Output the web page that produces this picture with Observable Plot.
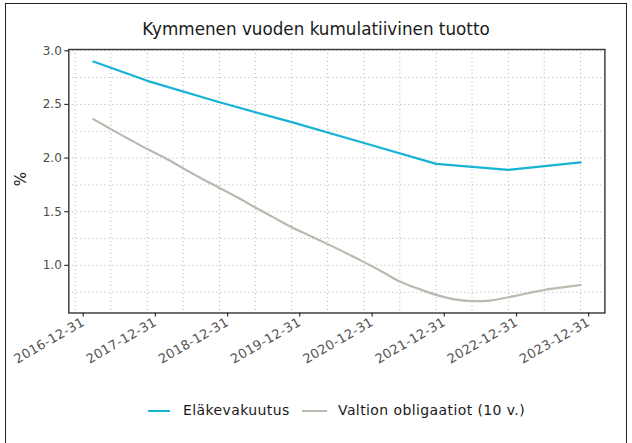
<!DOCTYPE html>
<html>
<head>
<meta charset="utf-8">
<script src="https://cdn.jsdelivr.net/npm/d3@7"></script>
<script src="https://cdn.jsdelivr.net/npm/@observablehq/plot@0.6"></script>
<style>
  body { margin: 0; background: #fff; }
  #wrap { position: relative; width: 632px; height: 443px; overflow: hidden; background: #fff;
          font-family: "DejaVu Sans", sans-serif; }
  #frame { position: absolute; left: 5px; top: 3px; width: 622px; height: 470px;
           border: 1px solid #222; box-sizing: border-box; pointer-events: none; }
  #chart { position: absolute; left: 0; top: 0; }
  #title { position: absolute; top: 19px; left: 0; width: 632px; text-align: center;
           font-size: 16.8px; color: #1a1a1a; line-height: 20px; }
  #ylab { position: absolute; left: 21px; top: 179px; transform: translate(-50%, -50%) rotate(-90deg);
          font-size: 15px; color: #1a1a1a; }
  .leg { position: absolute; top: 402px; font-size: 14px; letter-spacing: 0.4px; color: #1a1a1a; line-height: 17px; white-space: nowrap; }
  .sw { position: absolute; top: 410px; height: 2px; }
  .xax text { font-size: 13px; letter-spacing: 0.3px; }
</style>
</head>
<body>
<div id="wrap">
  <div id="chart"></div>
  <div id="title"></div>
  <div id="ylab"></div>
  <div id="legend"></div>
  <div id="frame"></div>
</div>
<script>
// ---- data ----
const titleText = "Kymmenen vuoden kumulatiivinen tuotto";
const yLabel = "%";
const seriesNames = ["Eläkevakuutus", "Valtion obligaatiot (10 v.)"];
const seriesColors = ["#17b3d4", "#b7bbb0"];

const pensionDates = ["2017-02-20","2017-11-20","2018-11-20","2019-11-20","2020-11-20","2021-11-20","2022-11-20","2023-11-20"];
const pensionValues = [2.90, 2.72, 2.52, 2.335, 2.14, 1.946, 1.89, 1.96];

const bondDates = [
  "2017-02-20","2017-05-20","2017-08-20","2017-11-20",
  "2018-02-20","2018-05-20","2018-08-20","2018-11-20",
  "2019-02-20","2019-05-20","2019-08-20","2019-11-20",
  "2020-02-20","2020-05-20","2020-08-20","2020-11-20",
  "2021-02-20","2021-05-20","2021-08-20","2021-11-20",
  "2022-02-20","2022-05-20","2022-08-20","2022-11-20",
  "2023-02-20","2023-05-20","2023-08-20","2023-11-20"];
const bondValues = [
  2.363, 2.270, 2.176, 2.084,
  1.998, 1.905, 1.810, 1.722,
  1.632, 1.540, 1.447, 1.355,
  1.276, 1.198, 1.116, 1.030,
  0.940, 0.850, 0.783, 0.725,
  0.683, 0.667, 0.672, 0.703,
  0.738, 0.770, 0.795, 0.817];

const xTickDates = ["2016-12-31","2017-12-31","2018-12-31","2019-12-31","2020-12-31","2021-12-31","2022-12-31","2023-12-31"];
const yTicks = [1.0, 1.5, 2.0, 2.5, 3.0];
const yGrid = [0.75, 1.0, 1.25, 1.5, 1.75, 2.0, 2.25, 2.5, 2.75, 3.0];
const xGridDates = ["2016-11-20","2017-05-20","2017-11-20","2018-05-20","2018-11-20","2019-05-20","2019-11-20",
  "2020-05-20","2020-11-20","2021-05-20","2021-11-20","2022-05-20","2022-11-20","2023-05-20","2023-11-20"];
const xDomain = ["2016-10-19", "2024-03-22"];
const yDomain = [0.556, 3.012];

// ---- build ----
const D = s => new Date(s + "T00:00:00Z");
const pension = pensionDates.map((d, i) => ({date: D(d), value: pensionValues[i]}));
const bonds = bondDates.map((d, i) => ({date: D(d), value: bondValues[i]}));

const chart = Plot.plot({
  width: 632,
  height: 443,
  marginLeft: 68.3,
  marginRight: 27.6,
  marginTop: 49,
  marginBottom: 130.5,
  style: {fontFamily: '"DejaVu Sans", sans-serif', fontSize: "12px", background: "transparent", color: "#4d4d4d", overflow: "visible"},
  x: {type: "utc", domain: xDomain.map(D)},
  y: {domain: yDomain},
  marks: [
    Plot.ruleY(yGrid, {y: d => d, stroke: "#b3b3b3", strokeDasharray: "1,3", strokeWidth: 1}),
    Plot.ruleX(xGridDates.map(D), {x: d => d, stroke: "#b3b3b3", strokeDasharray: "1,3", strokeWidth: 1}),
    Plot.line(bonds, {x: "date", y: "value", stroke: seriesColors[1], strokeWidth: 2.2, curve: "catmull-rom"}),
    Plot.line(pension, {x: "date", y: "value", stroke: seriesColors[0], strokeWidth: 2.2}),
    Plot.frame({stroke: "#333", strokeWidth: 1.4}),
    Plot.axisY(yTicks, {tickSize: 4, tickPadding: 3, stroke: "#333", strokeWidth: 1.2, fill: "#4d4d4d",
      tickFormat: d => d.toFixed(1), label: null}),
    Plot.axisX(xTickDates.map(D), {tickSize: 4, tickPadding: 4, stroke: "#333", strokeWidth: 1.2, fill: "#555",
      tickRotate: -30, tickFormat: d3.utcFormat("%Y-%m-%d"), label: null, className: "xax"})
  ]
});
document.getElementById("chart").appendChild(chart);
document.getElementById("title").textContent = titleText;
document.getElementById("ylab").textContent = yLabel;

const legend = document.getElementById("legend");
const legPos = [{sw: 148, sww: 22, tx: 183}, {sw: 302, sww: 25, tx: 338}];
seriesNames.forEach((name, i) => {
  const s = document.createElement("div");
  s.className = "sw";
  s.style.left = legPos[i].sw + "px";
  s.style.width = legPos[i].sww + "px";
  s.style.background = seriesColors[i];
  legend.appendChild(s);
  const t = document.createElement("div");
  t.className = "leg";
  t.style.left = legPos[i].tx + "px";
  t.textContent = name;
  legend.appendChild(t);
});
</script>
</body>
</html>
